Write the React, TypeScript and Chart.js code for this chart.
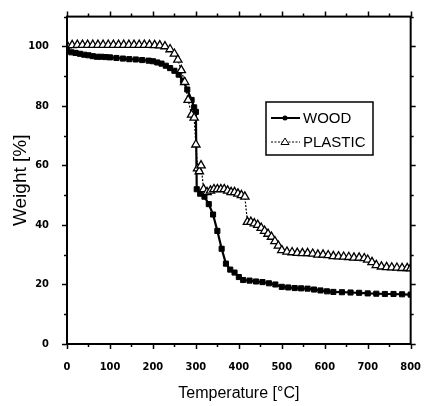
import { useEffect, useRef } from 'react';
import { Chart, registerables } from 'chart.js';

Chart.register(...registerables);

const woodT = [0, 10, 20, 30, 40, 50, 60, 70, 80, 90, 100, 115, 130, 145, 160, 175, 190, 200, 210, 220, 230, 240, 250, 260, 270, 280, 290, 296, 300, 302, 310, 320, 330, 340, 350, 360, 370, 380, 390, 400, 410, 425, 440, 455, 470, 485, 500, 515, 530, 545, 560, 575, 590, 605, 620, 640, 660, 680, 700, 720, 740, 760, 780, 800];
const woodW = [98.5, 98, 97.8, 97.5, 97.2, 97, 96.7, 96.5, 96.5, 96.4, 96.3, 96.1, 95.9, 95.7, 95.6, 95.4, 95.2, 95, 94.6, 94.2, 93.5, 92.7, 91.8, 90.5, 88.5, 85.5, 82, 79.5, 78, 52, 50.5, 49.5, 47, 43.5, 38, 32, 27, 25, 24, 22.5, 21.5, 21.3, 21, 20.8, 20.4, 20, 19.2, 19, 18.8, 18.7, 18.6, 18.3, 18, 17.7, 17.5, 17.4, 17.3, 17.2, 17, 16.9, 16.8, 16.8, 16.7, 16.6];

const plasticT = [0, 12, 24, 36, 48, 60, 72, 84, 96, 108, 120, 132, 144, 156, 168, 180, 192, 204, 216, 228, 240, 250, 258, 266, 274, 282, 290, 296, 300, 304, 308, 312, 318, 326, 334, 342, 350, 358, 366, 374, 382, 390, 398, 406, 414, 420, 428, 436, 444, 452, 460, 468, 476, 484, 492, 500, 512, 524, 536, 548, 560, 572, 584, 596, 608, 620, 632, 644, 656, 668, 680, 692, 700, 710, 720, 732, 744, 756, 768, 780, 792, 800];
const plasticW = [100.3, 100.4, 100.5, 100.5, 100.5, 100.5, 100.5, 100.5, 100.5, 100.5, 100.5, 100.5, 100.5, 100.5, 100.5, 100.5, 100.5, 100.4, 100.3, 100, 99, 97.5, 95.5, 92, 88, 82, 77, 76, 67, 59, 58, 60, 52, 51, 51.5, 52, 52, 52, 52, 51.5, 51, 51, 50.5, 50, 49.5, 41, 41, 40.5, 40, 39, 38, 37, 36, 34.5, 33, 31.5, 31, 30.8, 30.6, 30.5, 30.5, 30.3, 30, 30, 29.8, 29.5, 29.4, 29.3, 29.2, 29, 29, 28.8, 28.3, 27.5, 26.5, 26, 25.8, 25.7, 25.6, 25.5, 25.5, 25.4];

const seriesNames = ['WOOD', 'PLASTIC'];
const xTickValues = [0, 100, 200, 300, 400, 500, 600, 700, 800];
const yTickValues = [0, 20, 40, 60, 80, 100];
const xTitle = 'Temperature [°C]';
const yTitle = 'Weight [%]';

const TICK_FONT = '"Liberation Sans Narrow", "DejaVu Sans Condensed", "Liberation Sans", sans-serif';
const TEXT_FONT = '"Liberation Sans", Arial, sans-serif';

const frameTicksPlugin = {
  id: 'frameTicks',
  afterDatasetsDraw(chart: any) {
    const { ctx, chartArea } = chart;
    const { left, right, top, bottom } = chartArea;
    const xs = chart.scales.x;
    const ys = chart.scales.y;
    ctx.save();
    ctx.strokeStyle = '#000';
    ctx.lineWidth = 2;
    ctx.strokeRect(left, top, right - left, bottom - top);
    ctx.lineWidth = 1.5;
    for (let v = 0; v <= 800; v += 50) {
      const px = Math.round(xs.getPixelForValue(v)) + 0.5;
      const len = v % 100 === 0 ? 5 : 3;
      ctx.beginPath();
      ctx.moveTo(px, bottom);
      ctx.lineTo(px, bottom + len);
      ctx.moveTo(px, top);
      ctx.lineTo(px, top - len);
      ctx.stroke();
    }
    for (let v = 0; v <= 110; v += 10) {
      const py = Math.round(ys.getPixelForValue(v)) + 0.5;
      const len = v % 20 === 0 ? 5 : 3;
      ctx.beginPath();
      ctx.moveTo(left, py);
      ctx.lineTo(left - len, py);
      ctx.moveTo(right, py);
      ctx.lineTo(right + len, py);
      ctx.stroke();
    }
    ctx.restore();
  },
};

const boxLegendPlugin = {
  id: 'boxLegend',
  afterDraw(chart: any) {
    const { ctx } = chart;
    const ds = chart.data.datasets;
    const bx = 266, by = 102, bw = 107, bh = 53;
    ctx.save();
    ctx.strokeStyle = '#000';
    ctx.lineWidth = 1.5;
    ctx.fillStyle = '#fff';
    ctx.fillRect(bx, by, bw, bh);
    ctx.strokeRect(bx, by, bw, bh);
    const rows = [by + 16, by + 40];
    ds.forEach((d: any, i: number) => {
      const y = rows[i];
      ctx.strokeStyle = '#000';
      ctx.lineWidth = i === 0 ? 2 : 1.2;
      ctx.setLineDash(i === 0 ? [] : [2, 1.5]);
      ctx.beginPath();
      ctx.moveTo(bx + 5, y);
      ctx.lineTo(bx + 34, y);
      ctx.stroke();
      ctx.setLineDash([]);
      ctx.lineWidth = 1;
      if (i === 0) {
        ctx.fillStyle = '#000';
        ctx.beginPath();
        ctx.arc(bx + 19, y, 2.5, 0, Math.PI * 2);
        ctx.fill();
      } else {
        ctx.fillStyle = '#fff';
        ctx.beginPath();
        ctx.moveTo(bx + 19, y - 4);
        ctx.lineTo(bx + 23, y + 2.5);
        ctx.lineTo(bx + 15, y + 2.5);
        ctx.closePath();
        ctx.fill();
        ctx.stroke();
      }
      ctx.fillStyle = '#000';
      ctx.font = '15px ' + TEXT_FONT;
      ctx.textBaseline = 'middle';
      ctx.textAlign = 'left';
      ctx.fillText(d.label, bx + 37, y + 1);
    });
    ctx.restore();
  },
};

export default function App() {
  const ref = useRef<HTMLCanvasElement | null>(null);
  useEffect(() => {
    document.body.style.margin = '0';
    const canvas = ref.current;
    if (!canvas) return;
    const chart = new Chart(canvas, {
      type: 'line',
      data: {
        datasets: [
          {
            label: seriesNames[0],
            data: woodT.map((t, i) => ({ x: t, y: woodW[i] })),
            borderColor: '#000',
            borderWidth: 2.2,
            pointStyle: 'rect',
            pointRadius: 3.6,
            pointBackgroundColor: '#000',
            pointBorderColor: '#000',
            pointBorderWidth: 1,
            tension: 0,
            order: 2,
          },
          {
            label: seriesNames[1],
            data: plasticT.map((t, i) => ({ x: t, y: plasticW[i] })),
            borderColor: '#000',
            borderWidth: 1.2,
            borderDash: [2, 1.5],
            pointStyle: 'triangle',
            pointRadius: 4.8,
            pointBackgroundColor: '#fff',
            pointBorderColor: '#000',
            pointBorderWidth: 1.3,
            tension: 0,
            order: 1,
          },
        ],
      },
      options: {
        responsive: false,
        animation: false,
        layout: { padding: { top: 12, right: 9, left: 0, bottom: 0 } },
        plugins: {
          legend: { display: false },
          tooltip: { enabled: false },
        },
        scales: {
          x: {
            type: 'linear',
            min: 0,
            max: 800,
            afterBuildTicks: (s: any) => {
              s.ticks = xTickValues.map((v) => ({ value: v }));
            },
            afterFit: (s: any) => {
              s.height = 62;
            },
            ticks: {
              color: '#000',
              font: { family: TICK_FONT, size: 11, weight: 'bold' },
              padding: 9,
              maxRotation: 0,
              autoSkip: false,
            },
            grid: { display: false },
            border: { display: false },
            title: {
              display: true,
              text: xTitle,
              color: '#000',
              font: { family: TEXT_FONT, size: 16 },
              padding: { top: 0, bottom: 3 },
            },
          },
          y: {
            type: 'linear',
            min: 0,
            max: 110,
            afterBuildTicks: (s: any) => {
              s.ticks = yTickValues.map((v) => ({ value: v }));
            },
            afterFit: (s: any) => {
              s.width = 67;
            },
            ticks: {
              color: '#000',
              font: { family: TICK_FONT, size: 11, weight: 'bold' },
              padding: 10,
              autoSkip: false,
            },
            grid: { display: false },
            border: { display: false },
            title: {
              display: true,
              text: yTitle,
              color: '#000',
              font: { family: TEXT_FONT, size: 19 },
              padding: { top: 9, bottom: 0 },
            },
          },
        },
      },
      plugins: [frameTicksPlugin, boxLegendPlugin],
    });
    return () => chart.destroy();
  }, []);
  return (
    <div style={{ width: 430, height: 406 }}>
      <canvas ref={ref} width={430} height={406} />
    </div>
  );
}
